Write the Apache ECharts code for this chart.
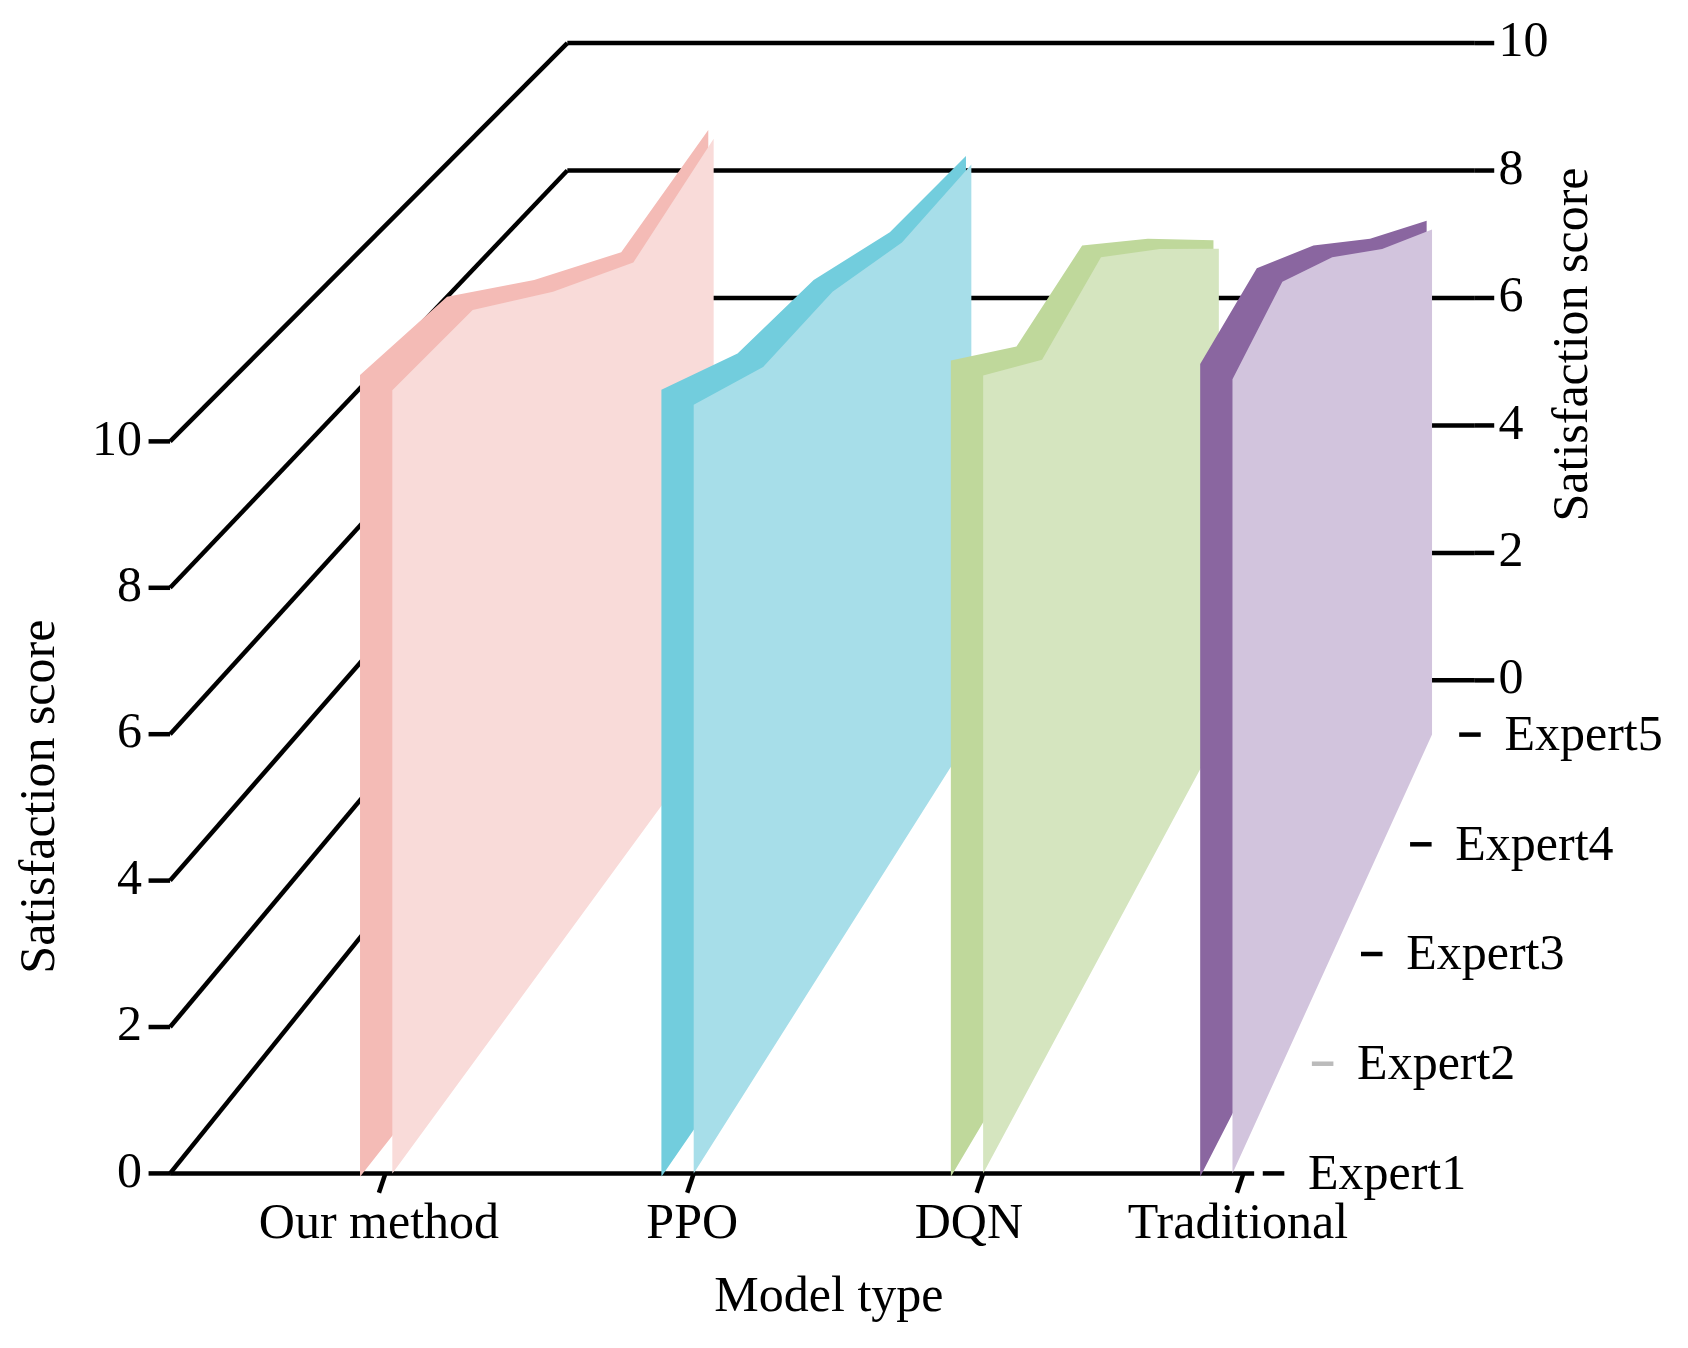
<!DOCTYPE html>
<html>
<head>
<meta charset="utf-8">
<script src="https://cdn.jsdelivr.net/npm/echarts@6/dist/echarts.min.js"></script>
<style>html,body{margin:0;padding:0;background:#fff}#vis{width:1688px;height:1348px}</style>
</head>
<body>
<div id="vis"></div>
<script>
const models = ['Our method', 'PPO', 'DQN', 'Traditional']
const experts = ['Expert1', 'Expert2', 'Expert3', 'Expert4', 'Expert5']
const scoreTicks = [0, 2, 4, 6, 8, 10]
// satisfaction scores per model, Expert1..Expert5
const ourMethod = [10.7, 10.6, 9.6, 8.7, 9.2]
const ppo = [10.5, 9.8, 9.6, 9.0, 8.8]
const dqn = [10.9, 9.9, 10.1, 8.9, 7.5]
const traditional = [10.85, 11.0, 10.1, 8.9, 7.8]
const seriesValues = [ourMethod, ppo, dqn, traditional]
const modelPos = [0.205, 0.483, 0.75, 0.98]  // position along model axis (0..1)
const lightColors = ['#f9dbd9', '#a7dee9', '#d5e5bf', '#d2c4dd']
const darkColors = ['#f4bbb6', '#72cddd', '#bfd89b', '#8a66a0']

const K = 1688 / 1568
const FONT = 'Liberation Serif'
const FS = 50
const depthOf = (e) => e * 0.2225

// simple oblique-perspective projection into chart units
function project (u, d, v) {
  const fx = 158 + u * 1007
  const bx = 527 + u * 843
  const x = fx + (bx - fx) * d
  const floor = 1090 - 458 * d
  const s = 68 - 8.8 * d
  return [x * K, (floor - v * s) * K]
}

const chart = echarts.init(document.getElementById('vis'))

function renderFrame (params, api) {
  const c = (p) => api.coord(p)
  const line = (a, b, color, w) => ({
    type: 'line',
    shape: { x1: c(a)[0], y1: c(a)[1], x2: c(b)[0], y2: c(b)[1] },
    style: { stroke: color || '#000', lineWidth: w || 4.5 }
  })
  const text = (p, str, align, vAlign, rot) => ({
    type: 'text',
    x: c(p)[0], y: c(p)[1], rotation: rot || 0,
    style: { text: str, fill: '#000', font: FS + 'px "' + FONT + '"', align, verticalAlign: vAlign }
  })
  const els = []
  scoreTicks.forEach(v => {
    const f = project(0, 0, v)
    const b = project(0, 1, v)
    const r = project(1, 1, v)
    els.push(line(f, b), line(b, r))
    els.push(line([f[0] - 20 * K, f[1]], f))
    els.push(line(r, [r[0] + 18 * K, r[1]]))
    els.push(text([f[0] - 26 * K, f[1]], String(v), 'right', 'middle'))
    els.push(text([r[0] + 22 * K, r[1]], String(v), 'left', 'middle'))
  })
  els.push(line(project(0, 0, 0), project(1, 0, 0)))
  experts.forEach((name, i) => {
    const p = project(1, depthOf(i), 0)
    els.push(line([p[0] + 8 * K, p[1]], [p[0] + 28 * K, p[1]], i === 1 ? '#bbb' : '#000'))
    els.push(text([p[0] + 50 * K, p[1] + 2 * K], name, 'left', 'middle'))
  })
  const labelX = [352, 643, 900, 1150]
  models.forEach((name, i) => {
    const p = project(modelPos[i], 0, 0)
    const tx = (i === 0 ? 358 : i === 3 ? 1155 : p[0] / K) * K
    els.push(line([tx, p[1]], [tx - 6 * K, p[1] + 18 * K]))
    els.push(text([labelX[i] * K, 1138 * K], name, 'center', 'middle'))
  })
  els.push(text([770 * K, 1206 * K], 'Model type', 'center', 'middle'))
  els.push(text([38 * K, 740 * K], 'Satisfaction score', 'center', 'middle', Math.PI / 2))
  els.push(text([1462 * K, 320 * K], 'Satisfaction score', 'center', 'middle', Math.PI / 2))
  return { type: 'group', children: els }
}

function renderRibbon (params, api) {
  const i = params.dataIndex
  const vals = seriesValues[i]
  const u = modelPos[i]
  const top = vals.map((v, e) => project(u, depthOf(e), v))
  const light = [project(u, 0, 0), ...top, project(u, depthOf(4), 0)]
  // thickness offset shrinks toward the back
  const off = (e) => {
    const t = e / (vals.length - 1)
    return [(-30 + 25 * t) * K, (-14 + 6 * t) * K]
  }
  const last = light[light.length - 1]
  const dark = [[light[0][0] - 30 * K, light[0][1] + 3 * K]]
    .concat(top.map((p, e) => [p[0] + off(e)[0], p[1] + off(e)[1]]))
    .concat([[last[0] - 5 * K, last[1]]])
  const toPx = (pts) => pts.map(p => api.coord(p))
  return {
    type: 'group',
    children: [
      { type: 'polygon', shape: { points: toPx(dark) }, style: { fill: darkColors[i] } },
      { type: 'polygon', shape: { points: toPx(light) }, style: { fill: lightColors[i] } }
    ]
  }
}

chart.setOption({
  animation: false,
  grid: { left: 0, right: 0, top: 0, bottom: 0 },
  xAxis: { type: 'value', min: 0, max: 1688, show: false },
  yAxis: { type: 'value', min: 0, max: 1348, inverse: true, show: false },
  series: [
    { type: 'custom', renderItem: renderFrame, data: [[0, 0]], z: 1, silent: true },
    { type: 'custom', renderItem: renderRibbon, data: models.map((m, i) => [i, 0]), z: 2, silent: true }
  ]
})
</script>
</body>
</html>
